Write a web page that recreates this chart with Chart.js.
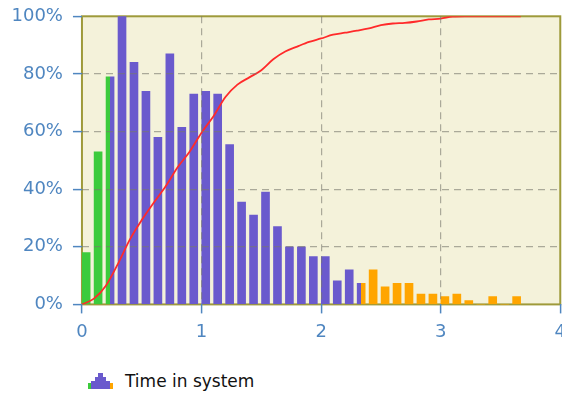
<!DOCTYPE html>
<html>
<head>
<meta charset="utf-8">
<script src="https://cdn.jsdelivr.net/npm/chart.js@4.4.1/dist/chart.umd.min.js"></script>
<style>
    html, body { margin: 0; padding: 0; background: #fff; overflow: hidden; }
    #wrap { position: relative; width: 574px; height: 351px; }
    #legend { position: absolute; left: 88px; top: 371px; display: flex; align-items: center;
              font-family: 'DejaVu Sans', sans-serif; font-size: 17px; color: #111; }
    #legend span { margin-left: 12px; }
</style>
</head>
<body>
<div id="wrap"><canvas id="chart"></canvas></div>
<div id="legend"></div>
<script>
// histogram bins (time in system, bar position) and their height in %
var binX = [0.035, 0.135, 0.235, 0.335, 0.435, 0.535, 0.635, 0.735, 0.835, 0.935,
            1.035, 1.135, 1.235, 1.335, 1.435, 1.535, 1.635, 1.735, 1.835, 1.935,
            2.035, 2.135, 2.235, 2.335, 2.435, 2.535, 2.635, 2.735, 2.835, 2.935,
            3.035, 3.135, 3.235, 3.335, 3.435, 3.535, 3.635];
var binPct = [18, 53, 79, 100, 84, 74, 58, 87, 61.5, 73,
              74, 73, 55.5, 35.5, 31, 39, 27, 20, 20, 16.6,
              16.6, 8.2, 12, 7.3, 12, 6.1, 7.3, 7.3, 3.6, 3.6,
              2.7, 3.6, 1.3, 0, 2.7, 0, 2.7];

// cumulative curve
var cdfX = [0, 0.1, 0.2, 0.3, 0.4, 0.5, 0.6, 0.7, 0.8, 0.9,
            1.0, 1.1, 1.2, 1.3, 1.4, 1.5, 1.6, 1.7, 1.8, 1.9,
            2.0, 2.1, 2.2, 2.3, 2.4, 2.5, 2.6, 2.7, 2.8, 2.9,
            3.0, 3.1, 3.2, 3.3, 3.4, 3.5, 3.6, 3.67];
var cdfPct = [0, 2, 6.5, 14, 22.5, 29.3, 35.3, 41, 47.6, 53,
              59.6, 65.3, 72, 76.3, 78.8, 81.3, 85.1, 87.8, 89.5, 91.1,
              92.3, 93.6, 94.3, 95, 95.8, 96.9, 97.5, 97.7, 98.2, 98.9,
              99.2, 99.9, 100, 100, 100, 100, 100, 100];

var xTicks = [0, 1, 2, 3, 4];
var yTicks = [0, 20, 40, 60, 80, 100];

// colour ranges of the histogram
var greenUntil = 0.235;
var orangeFrom = 2.335;

var GREEN = '#3ccb3c';
var PURPLE = '#6a5acd';
var ORANGE = '#ffa500';
var AXIS_BLUE = '#4f86c0';
var GRID = 'rgba(120,120,110,0.6)';

function barColor(context) {
    var chart = context.chart;
    var area = chart.chartArea;
    if (!area) {
        return PURPLE;
    }
    var xs = chart.scales.x;
    var w = area.right - area.left;
    var p1 = (xs.getPixelForValue(greenUntil) - area.left) / w;
    var p2 = (xs.getPixelForValue(orangeFrom) - area.left) / w;
    var g = chart.ctx.createLinearGradient(area.left, 0, area.right, 0);
    g.addColorStop(0, GREEN);
    g.addColorStop(p1, GREEN);
    g.addColorStop(p1, PURPLE);
    g.addColorStop(p2, PURPLE);
    g.addColorStop(p2, ORANGE);
    g.addColorStop(1, ORANGE);
    return g;
}

function gridColor(edges) {
    return function (ctx) {
        var v = ctx.tick ? ctx.tick.value : null;
        return edges.indexOf(v) >= 0 ? 'rgba(0,0,0,0)' : GRID;
    };
}

var plotFrame = {
    id: 'plotFrame',
    beforeDraw: function (chart) {
        var a = chart.chartArea;
        var ctx = chart.ctx;
        ctx.save();
        ctx.fillStyle = '#f4f2da';
        ctx.fillRect(a.left, a.top, a.right - a.left, a.bottom - a.top);
        ctx.restore();
    },
    beforeDatasetsDraw: function (chart) {
        var a = chart.chartArea;
        var ctx = chart.ctx;
        ctx.save();
        ctx.strokeStyle = '#9e9a3a';
        ctx.lineWidth = 2;
        ctx.strokeRect(a.left, a.top, a.right - a.left, a.bottom - a.top);
        ctx.restore();
    }
};

var tickFont = { family: 'DejaVu Sans', size: 18 };

var chart = new Chart(document.getElementById('chart'), {
    type: 'bar',
    data: {
        datasets: [{
            type: 'bar',
            label: 'Time in system',
            data: binX.map(function (x, i) { return { x: x, y: binPct[i] }; }),
            backgroundColor: barColor,
            borderWidth: 0,
            barThickness: 8,
            grouped: false,
            order: 2
        }, {
            type: 'line',
            label: 'Cumulative',
            data: cdfX.map(function (x, i) { return { x: x, y: cdfPct[i] }; }),
            borderColor: '#ff2a2a',
            borderWidth: 1.8,
            pointRadius: 0,
            cubicInterpolationMode: 'monotone',
            order: 1
        }]
    },
    options: {
        responsive: true,
        maintainAspectRatio: false,
        animation: false,
        layout: { padding: { left: 1.5, top: 9, right: 0, bottom: 0 } },
        plugins: {
            legend: { display: false },
            tooltip: { enabled: false }
        },
        scales: {
            x: {
                type: 'linear',
                min: 0,
                max: 4,
                offset: false,
                afterBuildTicks: function (scale) {
                    scale.ticks = xTicks.map(function (v) { return { value: v }; });
                },
                ticks: { color: AXIS_BLUE, font: tickFont, padding: 8, maxRotation: 0 },
                grid: {
                    z: 1,
                    offset: false,
                    color: gridColor([0, 4]),
                    lineWidth: 1.2,
                    tickColor: AXIS_BLUE,
                    tickLength: 9,
                    tickWidth: 1.5
                },
                border: { display: false, dash: [7, 5] }
            },
            y: {
                min: 0,
                max: 100,
                afterBuildTicks: function (scale) {
                    scale.ticks = yTicks.map(function (v) { return { value: v }; });
                },
                ticks: {
                    color: AXIS_BLUE,
                    font: { family: 'DejaVu Sans', size: 18, lineHeight: 0.7 },
                    padding: 10,
                    callback: function (v) { return v + '%'; }
                },
                grid: {
                    z: 1,
                    color: gridColor([0, 100]),
                    lineWidth: 1.2,
                    tickColor: AXIS_BLUE,
                    tickLength: 9,
                    tickWidth: 1.5
                },
                border: { display: false, dash: [7, 5] }
            }
        }
    },
    plugins: [plotFrame]
});

// legend drawn as html next to a small histogram icon
(function () {
    var legend = document.getElementById('legend');
    var icon = document.createElement('canvas');
    icon.width = 25;
    icon.height = 16;
    var c = icon.getContext('2d');
    c.fillStyle = PURPLE;
    c.fillRect(3, 8, 19, 8);
    c.fillRect(7, 4, 11, 4);
    c.fillRect(10, 0, 5, 4);
    c.fillStyle = GREEN;
    c.fillRect(0, 10, 3, 6);
    c.fillStyle = ORANGE;
    c.fillRect(22, 10, 3, 6);
    legend.appendChild(icon);
    var text = document.createElement('span');
    text.textContent = chart.data.datasets[0].label;
    legend.appendChild(text);
})();
</script>
</body>
</html>
